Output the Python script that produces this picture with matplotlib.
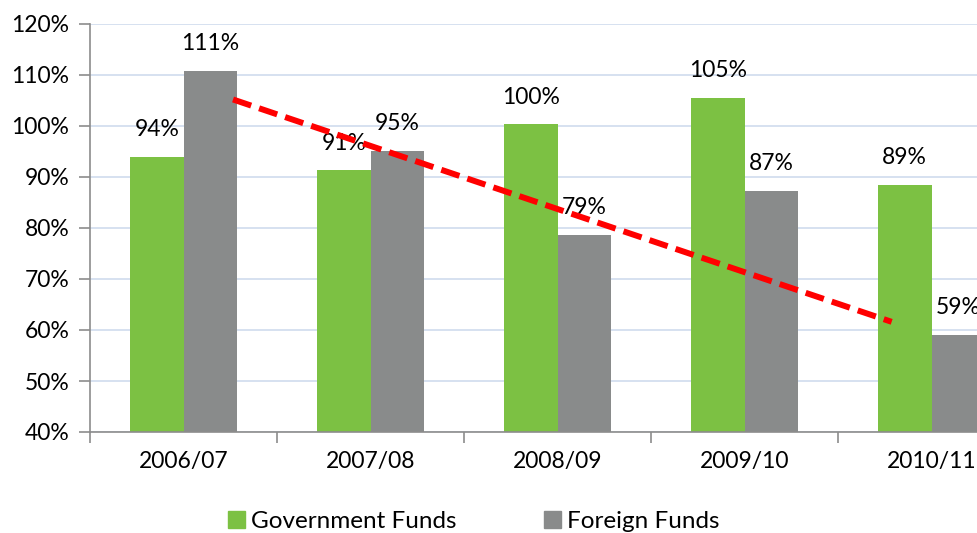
import matplotlib.pyplot as plt
from matplotlib.patches import Patch
import numpy as np

plt.rcParams['font.family'] = ['Lato', 'DejaVu Sans']

years = ['2006/07', '2007/08', '2008/09', '2009/10', '2010/11']
gov = [93.9, 91.3, 100.3, 105.5, 88.5]          # Government Funds (%)
foreign = [110.8, 95.1, 78.6, 87.3, 59.0]       # Foreign Funds (%)
gov_lbl = ['94%', '91%', '100%', '105%', '89%']
for_lbl = ['111%', '95%', '79%', '87%', '59%']
trend_x = [0.265, 3.787]                        # tendance (rouge)
trend_y = [105.2, 61.6]

green = '#7cc143'
grey = '#898b8b'

fig = plt.figure(figsize=(9.78, 5.33), dpi=100)
ax = fig.add_axes([90/978, 101/533, 935/978, 408/533])

x = np.arange(len(years))
w = 0.286
ax.bar(x - w/2, gov, w, color=green, zorder=2)
ax.bar(x + w/2, foreign, w, color=grey, zorder=2)

for i in range(len(years)):
    ax.annotate(gov_lbl[i], (x[i] - w/2, gov[i]), xytext=(0, 12), textcoords='offset points',
                ha='center', va='bottom', fontsize=16.5, zorder=4)
    ax.annotate(for_lbl[i], (x[i] + w/2, foreign[i]), xytext=(0, 12), textcoords='offset points',
                ha='center', va='bottom', fontsize=16.5, zorder=4)

# ligne de tendance
ax.plot(trend_x, trend_y, color='#ff0000', lw=4.3, dashes=(3.2, 1.4), zorder=5, solid_capstyle='butt')

# axe des ordonnées
ax.set_ylim(40, 120)
ax.set_yticks(range(40, 121, 10))
ax.set_yticklabels([f'{v}%' for v in range(40, 121, 10)], fontsize=16.5)
ax.yaxis.grid(True, color='#cfdcee', lw=1.2, zorder=0)

# axe des abscisses
ax.set_xlim(-0.5, 4.5)
ax.set_xticks(np.arange(-0.5, 5, 1))
ax.set_xticklabels([])
ax.set_xticks(x, minor=True)
ax.set_xticklabels(years, minor=True, fontsize=16.5)
ax.tick_params(axis='x', which='minor', length=0, pad=14)
ax.tick_params(axis='x', which='major', length=8, color='#8c8c8c', width=1.2)
ax.tick_params(axis='y', length=8, color='#8c8c8c', width=1.2, pad=7)

for s in ['top', 'right']:
    ax.spines[s].set_visible(False)
for s in ['left', 'bottom']:
    ax.spines[s].set_color('#8c8c8c')
    ax.spines[s].set_linewidth(1.2)

# légende
handles = [Patch(color=green, label='Government Funds'), Patch(color=grey, label='Foreign Funds')]
fig.legend(handles=handles, loc='center', bbox_to_anchor=(0.484, 0.0225), ncol=2, frameon=False,
           fontsize=17.5, handlelength=0.7, handleheight=0.7, handletextpad=0.25, columnspacing=3.6)

fig.savefig('out.png', dpi=100)
